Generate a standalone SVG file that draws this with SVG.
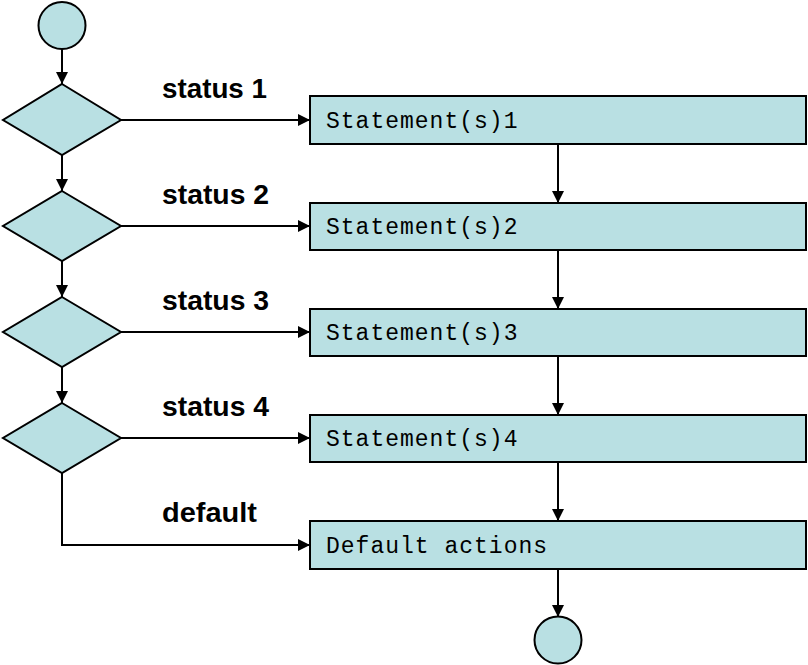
<svg xmlns="http://www.w3.org/2000/svg" width="808" height="665" viewBox="0 0 808 665">
<style>
.shape{fill:#b9e0e3;stroke:#000;stroke-width:2}
.conn{fill:none;stroke:#000;stroke-width:2}
.lbl{font-family:"Liberation Sans",Arial,sans-serif;font-weight:bold;font-size:27px;fill:#000}
.code{font-family:"Liberation Mono","Courier New",monospace;font-size:23px;fill:#000;letter-spacing:1px}
</style>
<defs>
<marker id="ah" markerUnits="userSpaceOnUse" markerWidth="12" markerHeight="12" viewBox="0 0 12 12" refX="12" refY="6" orient="auto">
<path d="M0,0 L12,6 L0,12 Z" fill="#000"/>
</marker>
</defs>
<rect width="808" height="665" fill="#fff"/>
<g id="connectors">
<line class="conn" x1="62" y1="49" x2="62" y2="84" marker-end="url(#ah)"/>
<line class="conn" x1="62" y1="155" x2="62" y2="191" marker-end="url(#ah)"/>
<line class="conn" x1="62" y1="261" x2="62" y2="297" marker-end="url(#ah)"/>
<line class="conn" x1="62" y1="367" x2="62" y2="403" marker-end="url(#ah)"/>
<line class="conn" x1="121" y1="120" x2="310" y2="120" marker-end="url(#ah)"/>
<line class="conn" x1="121" y1="226" x2="310" y2="226" marker-end="url(#ah)"/>
<line class="conn" x1="121" y1="332" x2="310" y2="332" marker-end="url(#ah)"/>
<line class="conn" x1="121" y1="438" x2="310" y2="438" marker-end="url(#ah)"/>
<polyline class="conn" points="62,473 62,545 310,545" marker-end="url(#ah)"/>
<line class="conn" x1="558" y1="144" x2="558" y2="203" marker-end="url(#ah)"/>
<line class="conn" x1="558" y1="250" x2="558" y2="309" marker-end="url(#ah)"/>
<line class="conn" x1="558" y1="356" x2="558" y2="415" marker-end="url(#ah)"/>
<line class="conn" x1="558" y1="462" x2="558" y2="521" marker-end="url(#ah)"/>
<line class="conn" x1="558" y1="569" x2="558" y2="617" marker-end="url(#ah)"/>
<text class="lbl" x="162" y="98" textLength="105" lengthAdjust="spacingAndGlyphs">status 1</text>
<text class="lbl" x="162" y="204" textLength="107" lengthAdjust="spacingAndGlyphs">status 2</text>
<text class="lbl" x="162" y="310" textLength="107" lengthAdjust="spacingAndGlyphs">status 3</text>
<text class="lbl" x="162" y="416" textLength="107" lengthAdjust="spacingAndGlyphs">status 4</text>
<text class="lbl" x="162" y="522" textLength="95" lengthAdjust="spacingAndGlyphs">default</text>
</g>
<g id="start"><circle class="shape" cx="62" cy="25.5" r="23.5"/></g>
<g id="cond1"><polygon class="shape" points="62,84 121,120 62,155 3,120"/></g>
<g id="cond2"><polygon class="shape" points="62,191 121,226 62,261 3,226"/></g>
<g id="cond3"><polygon class="shape" points="62,297 121,332 62,367 3,332"/></g>
<g id="cond4"><polygon class="shape" points="62,403 121,438 62,473 3,438"/></g>
<g id="stmt1"><rect class="shape" x="310" y="96" width="496" height="48"/><text class="code" x="326" y="128">Statement(s)1</text></g>
<g id="stmt2"><rect class="shape" x="310" y="203" width="496" height="47"/><text class="code" x="326" y="234">Statement(s)2</text></g>
<g id="stmt3"><rect class="shape" x="310" y="309" width="496" height="47"/><text class="code" x="326" y="340">Statement(s)3</text></g>
<g id="stmt4"><rect class="shape" x="310" y="415" width="496" height="47"/><text class="code" x="326" y="446">Statement(s)4</text></g>
<g id="default"><rect class="shape" x="310" y="521" width="496" height="48"/><text class="code" x="326" y="553">Default actions</text></g>
<g id="end"><circle class="shape" cx="558" cy="640" r="23.5"/></g>
</svg>
